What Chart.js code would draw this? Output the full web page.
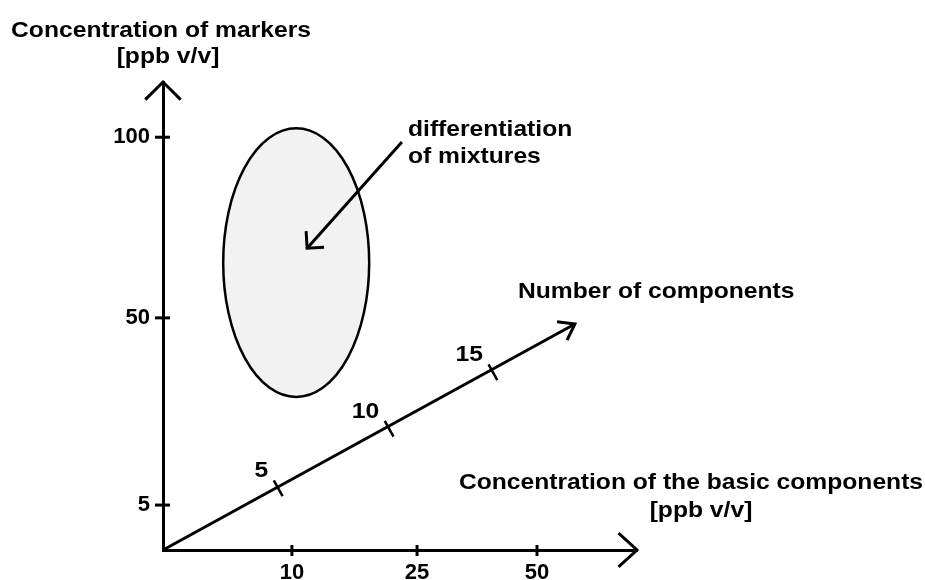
<!DOCTYPE html>
<html>
<head>
<meta charset="utf-8">
<script src="https://cdn.jsdelivr.net/npm/chart.js@4/dist/chart.umd.min.js"></script>
<style>
  html, body { margin: 0; padding: 0; background: #fff; }
</style>
</head>
<body>
<canvas id="diagrama" width="925" height="580"></canvas>
<script>
// axis ticks, schematic units (0..10 on both axes)
const xTickLabels = ['10', '25', '50'];
const xTickPos = [2.72, 5.36, 7.89];
const yTickLabels = ['5', '50', '100'];
const yTickPos = [0.96, 4.96, 8.82];

// third (oblique) axis: number of components
const zTickLabels = ['5', '10', '15'];
const zTickX = [2.43, 4.77, 6.96];
const zTickY = [1.32, 2.59, 3.80];
const zAxisEnd = [8.69, 4.83];

// grey region + pointer arrow
const regionCenter = [2.81, 6.14];
const regionRadius = [1.54, 2.87];
const pointerFrom = [5.04, 8.72];
const pointerTo = [3.04, 6.45];

const FONT = "'Liberation Sans', Arial, sans-serif";

function stretchText(ctx, txt, x, y, align) {
  ctx.save();
  ctx.translate(x, y);
  ctx.scale(1.12, 1);
  ctx.textAlign = align;
  ctx.textBaseline = 'alphabetic';
  ctx.fillText(txt, 0, 0);
  ctx.restore();
}

function arrowHead(ctx, x, y, angle, len, spread) {
  ctx.beginPath();
  ctx.moveTo(x + len * Math.cos(angle + Math.PI - spread), y + len * Math.sin(angle + Math.PI - spread));
  ctx.lineTo(x, y);
  ctx.lineTo(x + len * Math.cos(angle + Math.PI + spread), y + len * Math.sin(angle + Math.PI + spread));
  ctx.stroke();
}

const schemaPlugin = {
  id: 'schema',
  beforeDatasetsDraw(chart) {
    var ctx = chart.ctx, xs = chart.scales.x, ys = chart.scales.y;
    var cx = xs.getPixelForValue(regionCenter[0]);
    var cy = ys.getPixelForValue(regionCenter[1]);
    var rx = xs.getPixelForValue(regionCenter[0] + regionRadius[0]) - cx;
    var ry = cy - ys.getPixelForValue(regionCenter[1] + regionRadius[1]);
    ctx.save();
    ctx.beginPath();
    ctx.ellipse(cx, cy, rx, ry, 0, 0, Math.PI * 2);
    ctx.fillStyle = '#f2f2f2';
    ctx.fill();
    ctx.lineWidth = 2.5;
    ctx.strokeStyle = '#000';
    ctx.stroke();
    ctx.restore();
  },
  afterDatasetsDraw(chart) {
    var ctx = chart.ctx, xs = chart.scales.x, ys = chart.scales.y;
    var area = chart.chartArea;
    ctx.save();
    ctx.strokeStyle = '#000';
    ctx.lineWidth = 3;
    ctx.lineCap = 'butt';

    // tick marks crossing the two main axes
    yTickPos.forEach(function (v) {
      var py = ys.getPixelForValue(v);
      ctx.beginPath();
      ctx.moveTo(area.left - 8, py);
      ctx.lineTo(area.left + 7, py);
      ctx.stroke();
    });
    xTickPos.forEach(function (v) {
      var px = xs.getPixelForValue(v);
      ctx.beginPath();
      ctx.moveTo(px, area.bottom - 5);
      ctx.lineTo(px, area.bottom + 6);
      ctx.stroke();
    });

    // arrow heads
    arrowHead(ctx, area.left, area.top, -Math.PI / 2, 25, Math.PI / 4);
    arrowHead(ctx, area.right, area.bottom, 0, 25, 0.74);
    var ox = xs.getPixelForValue(0), oy = ys.getPixelForValue(0);
    var ex = xs.getPixelForValue(zAxisEnd[0]), ey = ys.getPixelForValue(zAxisEnd[1]);
    arrowHead(ctx, ex, ey, Math.atan2(ey - oy, ex - ox), 18, 0.62);
    var fx = xs.getPixelForValue(pointerFrom[0]), fy = ys.getPixelForValue(pointerFrom[1]);
    var tx = xs.getPixelForValue(pointerTo[0]), ty = ys.getPixelForValue(pointerTo[1]);
    arrowHead(ctx, tx, ty, Math.atan2(ty - fy, tx - fx), 17, Math.PI / 4);
    ctx.restore();
  },
  afterDraw(chart) {
    var ctx = chart.ctx, xs = chart.scales.x, ys = chart.scales.y;
    ctx.save();
    ctx.fillStyle = '#000';
    ctx.font = 'bold 22px ' + FONT;

    stretchText(ctx, 'Concentration of markers', 161, 37, 'center');
    stretchText(ctx, '[ppb v/v]', 168, 63, 'center');
    stretchText(ctx, 'differentiation', 408, 136, 'left');
    stretchText(ctx, 'of mixtures', 408, 163, 'left');
    stretchText(ctx, 'Number of components', 518, 298, 'left');
    stretchText(ctx, 'Concentration of the basic components', 691, 489, 'center');
    stretchText(ctx, '[ppb v/v]', 701, 517, 'center');

    // labels of the oblique axis
    zTickLabels.forEach(function (lbl, i) {
      var px = xs.getPixelForValue(zTickX[i]);
      var py = ys.getPixelForValue(zTickY[i]);
      stretchText(ctx, lbl, px - 10, py - 11, 'right');
    });
    ctx.restore();
  }
};

const zAxisLine = [{ x: 0, y: 0 }, { x: zAxisEnd[0], y: zAxisEnd[1] }];
const zTicks = zTickX.map(function (x, i) { return { x: x, y: zTickY[i] }; });
const pointerLine = [{ x: pointerFrom[0], y: pointerFrom[1] }, { x: pointerTo[0], y: pointerTo[1] }];

const tickFont = { family: FONT, size: 22, weight: 'bold' };

new Chart(document.getElementById('diagrama'), {
  type: 'scatter',
  data: {
    datasets: [
      {
        label: 'Number of components',
        data: zAxisLine,
        showLine: true,
        borderColor: '#000',
        borderWidth: 3,
        pointRadius: 0,
        clip: false
      },
      {
        label: 'ticks',
        data: zTicks,
        showLine: false,
        pointStyle: 'line',
        rotation: 61,
        pointRadius: 9,
        borderColor: '#000',
        borderWidth: 2.5,
        clip: false
      },
      {
        label: 'pointer',
        data: pointerLine,
        showLine: true,
        borderColor: '#000',
        borderWidth: 3,
        pointRadius: 0,
        clip: false
      }
    ]
  },
  options: {
    responsive: false,
    animation: false,
    devicePixelRatio: 1,
    layout: { padding: { left: 0, top: 82, right: 288, bottom: 0 } },
    plugins: {
      legend: { display: false },
      tooltip: { enabled: false }
    },
    scales: {
      x: {
        type: 'linear',
        min: 0,
        max: 10,
        grid: { display: false },
        border: { color: '#000', width: 3 },
        ticks: {
          color: '#000',
          font: tickFont,
          padding: 2,
          autoSkip: false,
          maxRotation: 0,
          callback: function (value, index) { return xTickLabels[index]; }
        },
        afterBuildTicks: function (scale) {
          scale.ticks = xTickPos.map(function (v) { return { value: v }; });
        },
        afterFit: function (scale) { scale.height = 30; }
      },
      y: {
        type: 'linear',
        min: 0,
        max: 10,
        grid: { display: false },
        border: { color: '#000', width: 3 },
        ticks: {
          color: '#000',
          font: tickFont,
          padding: 5,
          autoSkip: false,
          callback: function (value, index) { return yTickLabels[index]; }
        },
        afterBuildTicks: function (scale) {
          scale.ticks = yTickPos.map(function (v) { return { value: v }; });
        },
        afterFit: function (scale) { scale.width = 163; }
      }
    }
  },
  plugins: [schemaPlugin]
});
</script>
</body>
</html>
